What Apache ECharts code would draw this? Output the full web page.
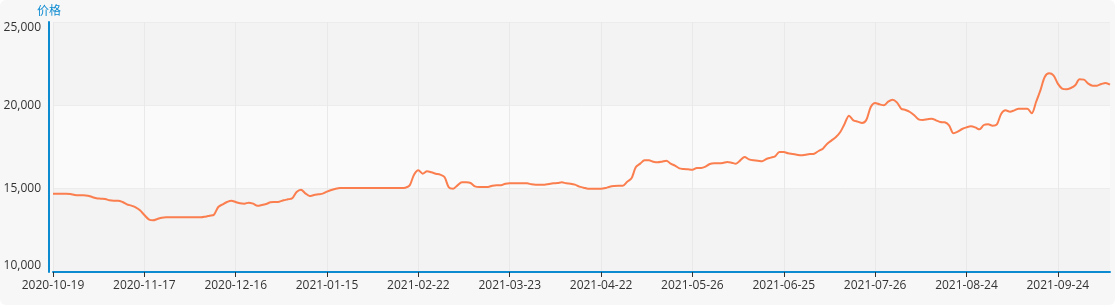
<!DOCTYPE html>
<html>
<head>
<meta charset="utf-8">
<script src="https://cdn.jsdelivr.net/npm/echarts@6/dist/echarts.min.js"></script>
<style>
  html, body { margin: 0; padding: 0; background: #fff; }
  #price { width: 1115px; height: 305px; background: #f7f7f7; border-radius: 6px; }
</style>
</head>
<body>
<div id="price"></div>
<script>
// trading days start and exchange holidays (weekends are skipped too)
const startDate = '2020-10-19'
const dayCount = 244
const holidays = [
  '2021-01-01',
  '2021-02-11', '2021-02-12', '2021-02-15', '2021-02-16', '2021-02-17',
  '2021-04-05',
  '2021-05-03', '2021-05-04', '2021-05-05',
  '2021-06-14',
  '2021-09-20', '2021-09-21',
  '2021-10-01', '2021-10-04', '2021-10-05', '2021-10-06', '2021-10-07'
]

// price, one value per trading day
const prices = [
  14700, 14700, 14700, 14700, 14680, 14620, 14600, 14600, 14580, 14500,
  14420, 14400, 14380, 14300, 14280, 14280, 14200, 14060, 13980, 13880,
  13700, 13420, 13160, 13100, 13180, 13260, 13280, 13280, 13280, 13280,
  13280, 13280, 13280, 13280, 13280, 13320, 13380, 13440, 13900, 14060,
  14200, 14280, 14200, 14120, 14100, 14160, 14100, 13980, 14020, 14080,
  14180, 14200, 14220, 14300, 14360, 14420, 14800, 14940, 14720, 14560,
  14620, 14660, 14700, 14820, 14920, 15000, 15040, 15040, 15040, 15040,
  15040, 15040, 15040, 15040, 15040, 15040, 15040, 15040, 15040, 15040,
  15040, 15060, 15200, 15840, 16100, 15900, 16040, 15980, 15900, 15840,
  15700, 15080, 15000, 15200, 15380, 15380, 15340, 15140, 15100, 15100,
  15100, 15180, 15200, 15200, 15300, 15320, 15320, 15320, 15320, 15320,
  15260, 15240, 15240, 15240, 15280, 15320, 15340, 15380, 15320, 15300,
  15240, 15120, 15060, 15000, 15000, 15000, 15000, 15040, 15120, 15160,
  15180, 15180, 15420, 15620, 16300, 16500, 16700, 16700, 16620, 16580,
  16620, 16680, 16500, 16380, 16220, 16180, 16160, 16140, 16240, 16240,
  16320, 16480, 16520, 16520, 16540, 16600, 16560, 16500, 16700, 16900,
  16760, 16700, 16680, 16640, 16780, 16860, 16940, 17200, 17200, 17120,
  17080, 17040, 17000, 17040, 17080, 17100, 17260, 17400, 17700, 17900,
  18100, 18400, 18900, 19380, 19100, 19020, 18940, 19140, 19900, 20140,
  20060, 20000, 20220, 20340, 20180, 19800, 19720, 19600, 19400, 19160,
  19120, 19160, 19200, 19100, 19000, 18980, 18800, 18320, 18420, 18580,
  18680, 18740, 18680, 18560, 18820, 18860, 18780, 18860, 19500, 19700,
  19620, 19700, 19800, 19800, 19800, 19520, 20200, 20900, 21700, 21920,
  21800, 21300, 21000, 20960, 21040, 21200, 21560, 21540, 21300, 21180,
  21180, 21280, 21340, 21240
]

const yMin = 10000
const yMax = 25000
const yStep = 5000

function pad(n) {
  return n < 10 ? '0' + n : '' + n
}

function tradingDays() {
  const list = []
  const d = new Date(startDate + 'T00:00:00Z')
  while (list.length < dayCount) {
    const s = d.getUTCFullYear() + '-' + pad(d.getUTCMonth() + 1) + '-' + pad(d.getUTCDate())
    const wd = d.getUTCDay()
    if (wd !== 0 && wd !== 6 && holidays.indexOf(s) < 0) list.push(s)
    d.setUTCDate(d.getUTCDate() + 1)
  }
  return list
}

const dates = tradingDays()
const blue = '#0d8bd1'

const chart = echarts.init(document.getElementById('price'))
const option = {
  animation: false,
  grid: {
    left: 53,
    right: 5,
    top: 22,
    bottom: 33,
    containLabel: false
  },
  xAxis: {
    type: 'category',
    data: dates,
    boundaryGap: false,
    axisLine: {
      lineStyle: { color: blue, width: 2 }
    },
    axisTick: {
      interval: 20,
      length: 5,
      lineStyle: { color: '#333' }
    },
    axisLabel: {
      interval: 20,
      color: '#333',
      fontSize: 12,
      fontFamily: 'Open Sans, sans-serif'
    },
    splitLine: {
      show: true,
      interval: 20,
      lineStyle: { color: '#e9e9e9' }
    }
  },
  yAxis: {
    type: 'value',
    name: '价格',
    nameGap: 6,
    nameTextStyle: {
      color: blue,
      fontSize: 12,
      fontFamily: 'Noto Sans CJK SC, sans-serif'
    },
    min: yMin,
    max: yMax,
    interval: yStep,
    offset: 4,
    axisLine: {
      show: true,
      lineStyle: { color: blue, width: 2 }
    },
    axisTick: { show: false },
    axisLabel: {
      color: '#333',
      fontSize: 12,
      fontFamily: 'Open Sans, sans-serif',
      formatter: function (v) {
        const s = v.toLocaleString('en-US')
        if (v === yMax) return '{top|' + s + '}'
        if (v === yMin) return '{bot|' + s + '}'
        return s
      },
      rich: {
        top: { padding: [12, 0, 0, 0], color: '#333', fontSize: 12, fontFamily: 'Open Sans, sans-serif' },
        bot: { padding: [0, 0, 12, 0], color: '#333', fontSize: 12, fontFamily: 'Open Sans, sans-serif' }
      }
    },
    splitLine: {
      show: true,
      lineStyle: { color: '#ececec' }
    },
    splitArea: {
      show: true,
      areaStyle: { color: ['#f3f3f3', '#fafafa'] }
    }
  },
  series: [{
    name: '价格',
    type: 'line',
    data: prices,
    smooth: 0.3,
    symbol: 'none',
    lineStyle: { color: '#fa7e4e', width: 2 },
    itemStyle: { color: '#fa7e4e' }
  }]
}
chart.setOption(option)
window.onresize = () => {
  chart.resize()
}
</script>
</body>
</html>
